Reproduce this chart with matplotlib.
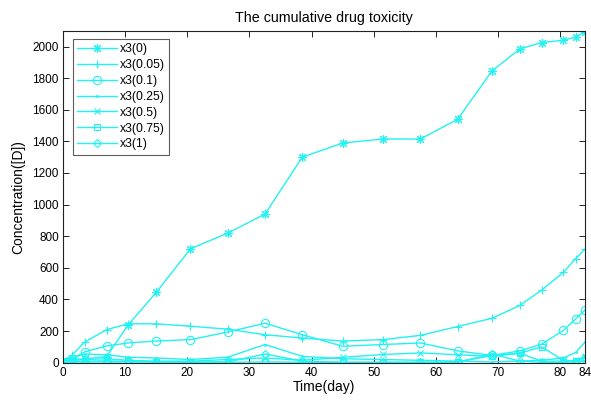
import matplotlib
matplotlib.use("Agg")
import matplotlib.pyplot as plt

plt.rcParams['font.family'] = ['Liberation Sans', 'DejaVu Sans']

days = [0, 0.5, 1, 1.5, 3.5, 7, 10.5, 15, 20.5, 26.5, 32.5, 38.5, 45, 51.5,
        57.5, 63.5, 69, 73.5, 77, 80.5, 82.5, 84]

x3_0 = [0, 5, 10, 20, 25, 38, 240, 445, 720, 820, 940, 1300, 1390, 1415,
        1415, 1540, 1845, 1985, 2025, 2040, 2060, 2095]
x3_005 = [0, 10, 25, 50, 131, 209, 246, 246, 231, 212, 177, 156, 137, 146,
          173, 229, 281, 362, 459, 571, 659, 719]
x3_01 = [0, 5, 12, 25, 69, 106, 125, 137, 146, 194, 250, 177, 104, 115,
         125, 75, 46, 75, 117, 204, 277, 334]
x3_025 = [0, 5, 15, 30, 55, 50, 35, 30, 20, 35, 115, 40, 25, 20,
          15, 10, 5, 10, 15, 30, 65, 131]
x3_05 = [0, 5, 10, 15, 20, 25, 15, 10, 10, 20, 30, 15, 34, 52,
         62, 50, 40, 60, 10, 10, 15, 40]
x3_075 = [0, 2, 5, 8, 10, 12, 8, 5, 5, 3, 5, 3, 2, 2,
          2, 5, 45, 60, 100, 15, 10, 30]
x3_1 = [0, 2, 3, 5, 5, 5, 5, 5, 3, 5, 55, 10, 3, 3,
        3, 3, 55, 10, 3, 3, 5, 15]

asterisk = (8, 2, 0)
series = [
    ("x3(0)", x3_0, asterisk, 6.5),
    ("x3(0.05)", x3_005, "+", 6),
    ("x3(0.1)", x3_01, "o", 6),
    ("x3(0.25)", x3_025, ".", 2.5),
    ("x3(0.5)", x3_05, "x", 4.5),
    ("x3(0.75)", x3_075, "s", 4.5),
    ("x3(1)", x3_1, "D", 4.5),
]

fig = plt.figure(figsize=(5.91, 4.01), dpi=100)
ax = fig.add_axes([0.1066, 0.0955, 0.8834, 0.8279])

color = "#22F2F2"
for label, vals, m, ms in series:
    ax.plot(days, vals, marker=m, color=color, lw=1.0, ms=ms,
            mfc="none", mew=0.8, label=label)

ax.set_xlim(0, 84)
ax.set_ylim(0, 2100)
ax.set_xticks([0, 10, 20, 30, 40, 50, 60, 70, 80, 84])
ax.set_yticks(range(0, 2001, 200))
ax.tick_params(direction="in", top=True, right=True, labelsize=8.5, length=4,
               width=0.6, pad=3)
for s in ax.spines.values():
    s.set_linewidth(0.8)
    s.set_color("#222222")

ax.set_title("The cumulative drug toxicity", fontsize=10.3, pad=6)
ax.set_xlabel("Time(day)", fontsize=10, labelpad=1)
ax.set_ylabel("Concentration([D])", fontsize=10, labelpad=5)

leg = ax.legend(loc="upper left", fontsize=8.7, frameon=True, fancybox=False,
                edgecolor="#333333", handlelength=3.3, borderpad=0.35,
                labelspacing=0.32, handletextpad=0.25, borderaxespad=0,
                bbox_to_anchor=(0.0185, 0.975))
leg.get_frame().set_linewidth(0.8)

fig.savefig("out.png", dpi=100)
